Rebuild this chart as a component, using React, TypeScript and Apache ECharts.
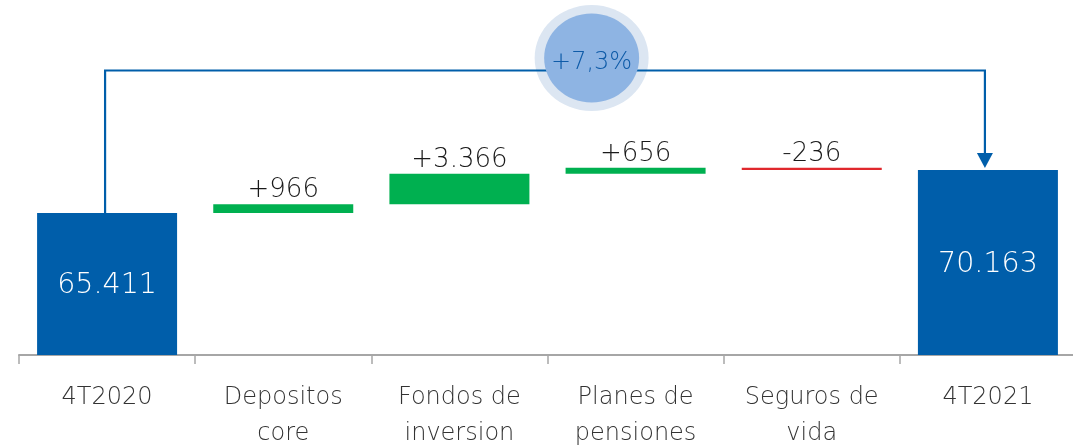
import React, { useEffect, useRef } from "react";
import * as echarts from "echarts";

const categories = ["4T2020", "Depositos\ncore", "Fondos de\ninversion", "Planes de\npensiones", "Seguros de\nvida", "4T2021"];
const startTotal = 65411;
const changes = [966, 3366, 656, -236];
const endTotal = 70163;
const changeLabels = ["+966", "+3.366", "+656", "-236"];
const totalLabels = ["65.411", "70.163"];
const growthLabel = "+7,3%";

const BLUE = "#005EAA";
const GREEN = "#00B050";
const RED = "#E0282D";
const FONT = "'DejaVu Sans', sans-serif";

export default function App() {
  const ref = useRef<HTMLDivElement>(null);
  useEffect(() => {
    if (!ref.current) return;
    const chart = echarts.init(ref.current, undefined, { renderer: "svg" });

    const base: number[] = [0];
    const vis: any[] = [];
    const totalLabel = (t: string) => ({ show: true, position: "inside", formatter: t, color: "#fff", fontSize: 28.5, fontWeight: 200, fontFamily: FONT });
    vis.push({ value: startTotal, itemStyle: { color: BLUE }, label: totalLabel(totalLabels[0]) });
    let run = startTotal;
    changes.forEach((c, i) => {
      const lo = c >= 0 ? run : run + c;
      base.push(lo);
      vis.push({
        value: Math.abs(c),
        itemStyle: { color: c >= 0 ? GREEN : RED },
        label: { show: true, position: "top", distance: 3, formatter: changeLabels[i], color: "#1a1a1a", fontSize: 26, fontWeight: 200, fontFamily: FONT },
      });
      run += c;
    });
    base.push(0);
    vis.push({ value: endTotal, itemStyle: { color: BLUE }, label: totalLabel(totalLabels[1]) });

    chart.setOption({
      animation: false,
      grid: { left: 19, right: -3, top: 81, height: 274, containLabel: false, outerBoundsMode: "none" },
      xAxis: {
        type: "category",
        data: categories,
        axisLine: { lineStyle: { color: "#A6A6A6", width: 2 } },
        axisTick: { show: true, length: 9, lineStyle: { color: "#A6A6A6", width: 1.5 } },
        axisLabel: { color: "#333", fontSize: 24, fontWeight: 200, fontFamily: FONT, lineHeight: 36, margin: 23, interval: 0 },
      },
      yAxis: { type: "value", min: 49700, max: 80000, show: false, splitLine: { show: false } },
      series: [
        { type: "bar", stack: "w", data: base, barWidth: 140, itemStyle: { color: "transparent" }, silent: true, clip: true },
        { type: "bar", stack: "w", data: vis, barWidth: 140, clip: true },
      ],
    });

    const p0 = chart.convertToPixel({ xAxisIndex: 0, yAxisIndex: 0 }, [0, startTotal]) as number[];
    const p5 = chart.convertToPixel({ xAxisIndex: 0, yAxisIndex: 0 }, [5, endTotal]) as number[];
    const x0 = p0[0] - 2;
    const x5 = p5[0] - 3;
    const yTop = 70.5;
    const cx = x0 + (x5 - x0) * 0.553;
    const cy = 58;

    chart.setOption({
      graphic: [
        { type: "ellipse", shape: { cx, cy, rx: 57, ry: 53 }, style: { fill: "#DCE6F2" }, z: 10 },
        {
          type: "polyline",
          shape: { points: [[x0, p0[1]], [x0, yTop], [x5, yTop], [x5, p5[1] - 16]] },
          style: { stroke: BLUE, lineWidth: 2.2, fill: "none" },
          z: 11,
        },
        {
          type: "polygon",
          shape: { points: [[x5 - 8, p5[1] - 17], [x5 + 8, p5[1] - 17], [x5, p5[1] - 2]] },
          style: { fill: BLUE },
          z: 11,
        },
        { type: "ellipse", shape: { cx, cy, rx: 47.5, ry: 44.5 }, style: { fill: "#8EB4E3" }, z: 12 },
        {
          type: "text",
          x: cx,
          y: cy + 3,
          style: { text: growthLabel, fill: "#0E5BA8", fontSize: 24, fontWeight: 200, fontFamily: FONT, align: "center", verticalAlign: "middle" },
          z: 13,
        },
      ],
    });

    return () => chart.dispose();
  }, []);
  return <div ref={ref} style={{ position: "fixed", left: 0, top: 0, width: 1073, height: 445 }} />;
}
